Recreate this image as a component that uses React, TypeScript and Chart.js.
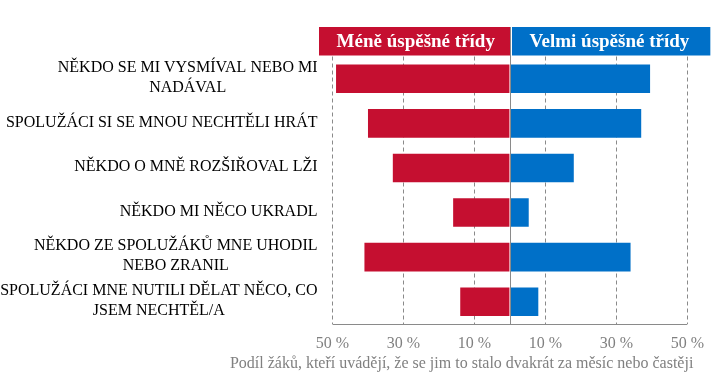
import React, { useEffect, useRef } from "react";
import { Chart, registerables } from "chart.js";

Chart.register(...registerables);

const categories: string[][] = [
  ["NĚKDO SE MI VYSMÍVAL NEBO MI", "NADÁVAL"],
  ["SPOLUŽÁCI SI SE MNOU NECHTĚLI HRÁT"],
  ["NĚKDO O MNĚ ROZŠIŘOVAL LŽI"],
  ["NĚKDO MI NĚCO UKRADL"],
  ["NĚKDO ZE SPOLUŽÁKŮ MNE UHODIL", "NEBO ZRANIL"],
  ["SPOLUŽÁCI MNE NUTILI DĚLAT NĚCO, CO", "JSEM NECHTĚL/A"],
];

const lessSuccessful = [49, 40, 33, 16, 41, 14];
const verySuccessful = [39.5, 37, 18, 5.3, 34, 8];

const seriesNames = ["Méně úspěšné třídy", "Velmi úspěšné třídy"];
const tickValues = [-50, -30, -10, 0, 10, 30, 50];
const axisTitle =
  "Podíl žáků, kteří uvádějí, že se jim to stalo dvakrát za měsíc nebo častěji";

const RED = "#C50F30";
const BLUE = "#0070C8";
const GRID = "#8a8a8a";
const SERIF = "'Liberation Serif', 'Times New Roman', serif";

const decorPlugin = {
  id: "decor",
  afterDatasetsDraw(chart: any) {
    const { ctx, chartArea } = chart;
    const xs = chart.scales.x;
    const ys = chart.scales.y;
    const x0 = Math.round(xs.getPixelForValue(0)) + 0.5;
    ctx.save();

    // header boxes
    const hTop = chartArea.top - 29.5;
    const hH = 28.5;
    ctx.fillStyle = RED;
    ctx.fillRect(chartArea.left - 13.5, hTop, x0 - 0.5 - (chartArea.left - 13.5), hH);
    ctx.fillStyle = BLUE;
    ctx.fillRect(x0 + 1.5, hTop, chartArea.right + 23 - (x0 + 1.5), hH);
    ctx.fillStyle = "#ffffff";
    ctx.font = `bold 19px ${SERIF}`;
    ctx.textAlign = "center";
    ctx.textBaseline = "middle";
    ctx.fillText(seriesNames[0], (chartArea.left - 13.5 + x0) / 2 + 1, hTop + hH / 2 + 1);
    ctx.fillText(seriesNames[1], (x0 + chartArea.right + 23) / 2 - 1, hTop + hH / 2 + 1);

    // zero line
    ctx.strokeStyle = GRID;
    ctx.lineWidth = 1;
    ctx.beginPath();
    ctx.moveTo(x0, hTop);
    ctx.lineTo(x0, chartArea.bottom);
    ctx.stroke();

    // bottom axis line
    const yb = Math.round(chartArea.bottom) + 0.5;
    ctx.beginPath();
    ctx.moveTo(chartArea.left, yb);
    ctx.lineTo(chartArea.right, yb);
    ctx.stroke();

    // category labels: block right-aligned, lines centered within block
    ctx.fillStyle = "#000000";
    ctx.font = `16px ${SERIF}`;
    ctx.textBaseline = "middle";
    ctx.textAlign = "center";
    const lh = 20;
    const rightEdge = chartArea.left - 15;
    categories.forEach((lines, i) => {
      const cy = ys.getPixelForValue(i);
      const w = Math.max(...lines.map((l) => ctx.measureText(l).width));
      const cx = rightEdge - w / 2;
      const startY = cy - ((lines.length - 1) * lh) / 2 - 1;
      lines.forEach((l, j) => ctx.fillText(l, cx, startY + j * lh));
    });

    // axis title
    ctx.fillStyle = "#808080";
    ctx.font = `16px ${SERIF}`;
    ctx.textAlign = "right";
    ctx.fillText(axisTitle, chartArea.right + 6, chartArea.bottom + 40);
    ctx.restore();
  },
};

export default function App() {
  const ref = useRef<HTMLCanvasElement>(null);
  useEffect(() => {
    const chart = new Chart(ref.current!, {
      type: "bar",
      data: {
        labels: categories.map((c) => c.join(" ")),
        datasets: [
          {
            label: seriesNames[0],
            data: lessSuccessful.map((v) => -v),
            backgroundColor: RED,
            categoryPercentage: 1,
            barPercentage: 0.64,
          },
          {
            label: seriesNames[1],
            data: verySuccessful,
            backgroundColor: BLUE,
            categoryPercentage: 1,
            barPercentage: 0.64,
          },
        ],
      },
      options: {
        indexAxis: "y",
        responsive: false,
        animation: false,
        layout: { padding: { left: 332.5, right: 26, top: 56.5, bottom: 0 } },
        plugins: { legend: { display: false }, tooltip: { enabled: false } },
        scales: {
          x: {
            stacked: true,
            min: -50,
            max: 50,
            afterBuildTicks: (scale: any) => {
              scale.ticks = tickValues.map((v) => ({ value: v }));
            },
            afterFit: (scale: any) => {
              scale.height = 63;
            },
            grid: {
              drawTicks: false,
              color: (c: any) => (c.tick && c.tick.value === 0 ? "rgba(0,0,0,0)" : GRID),
            },
            border: { display: false, dash: [4, 3] },
            ticks: {
              padding: 10,
              color: "#808080",
              font: { family: SERIF, size: 16 },
              callback: (v: any) => (Number(v) === 0 ? "" : Math.abs(Number(v)) + " %"),
            },
          },
          y: {
            stacked: true,
            display: false,
          },
        },
      },
      plugins: [decorPlugin],
    });
    return () => chart.destroy();
  }, []);
  return (
    <div style={{ position: "fixed", left: 0, top: 0, width: 714, height: 387, background: "#fff" }}>
      <canvas ref={ref} width={714} height={387} />
    </div>
  );
}
